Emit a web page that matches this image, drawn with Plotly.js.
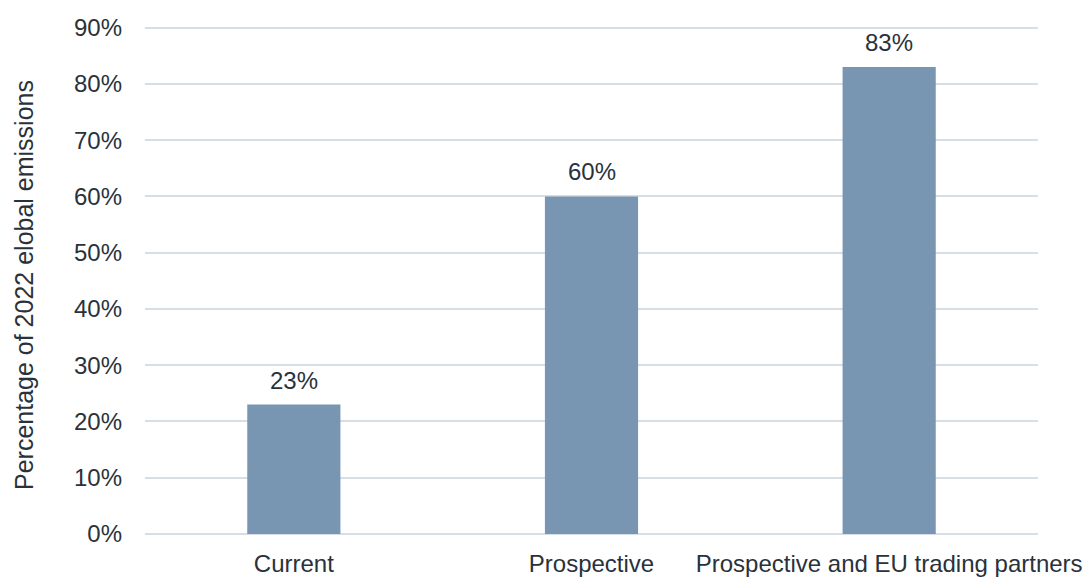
<!DOCTYPE html>
<html>
<head>
<meta charset="utf-8">
<script src="https://cdn.plot.ly/plotly-3.0.1.min.js"></script>
<style>html,body{margin:0;padding:0;background:#fff;}#chart{width:1084px;height:578px;}</style>
</head>
<body>
<div id="chart"></div>
<script>
var categories = ["Current", "Prospective", "Prospective and EU trading partners"];
var values = [23, 60, 83];
var valueLabels = ["23%", "60%", "83%"];
var tickValues = [0, 10, 20, 30, 40, 50, 60, 70, 80, 90];
var tickLabels = ["0%", "10%", "20%", "30%", "40%", "50%", "60%", "70%", "80%", "90%"];
var yTitle = "Percentage of 2022 elobal emissions";

var textColor = "#29323b";
var fontFamily = "Liberation Sans, Arial, sans-serif";

var trace = {
  type: "bar",
  x: categories,
  y: values,
  marker: {color: "#7896b2"},
  hoverinfo: "none"
};

var annotations = categories.map(function (c, i) {
  return {
    x: c, y: values[i], text: valueLabels[i],
    xref: "x", yref: "y", showarrow: false,
    yanchor: "bottom", yshift: 9,
    font: {family: fontFamily, size: 24, color: textColor}
  };
});
annotations.push({
  xref: "paper", yref: "paper", x: 0, y: 0.5,
  xanchor: "center", yanchor: "middle", xshift: -121, yshift: -5,
  textangle: -90, showarrow: false, text: yTitle,
  font: {family: fontFamily, size: 25, color: textColor}
});

var layout = {
  width: 1084, height: 578,
  margin: {l: 145, r: 46, t: 26, b: 44},
  paper_bgcolor: "#fff", plot_bgcolor: "#fff",
  bargap: 0.687,
  showlegend: false,
  font: {family: fontFamily, size: 24, color: textColor},
  xaxis: {
    type: "category",
    showgrid: false, zeroline: false, showline: false,
    ticks: "", ticklabelstandoff: 13,
    tickfont: {family: fontFamily, size: 24, color: textColor}
  },
  yaxis: {
    range: [0, 90.3],
    tickvals: tickValues, ticktext: tickLabels,
    showgrid: true, gridcolor: "#d6dfe8", gridwidth: 2,
    zeroline: true, zerolinecolor: "#d6dfe8", zerolinewidth: 2,
    showline: false, ticks: "", ticklabelstandoff: 22,
    tickfont: {family: fontFamily, size: 24, color: textColor}
  },
  annotations: annotations
};

Plotly.newPlot("chart", [trace], layout, {displayModeBar: false, staticPlot: true});
</script>
</body>
</html>
